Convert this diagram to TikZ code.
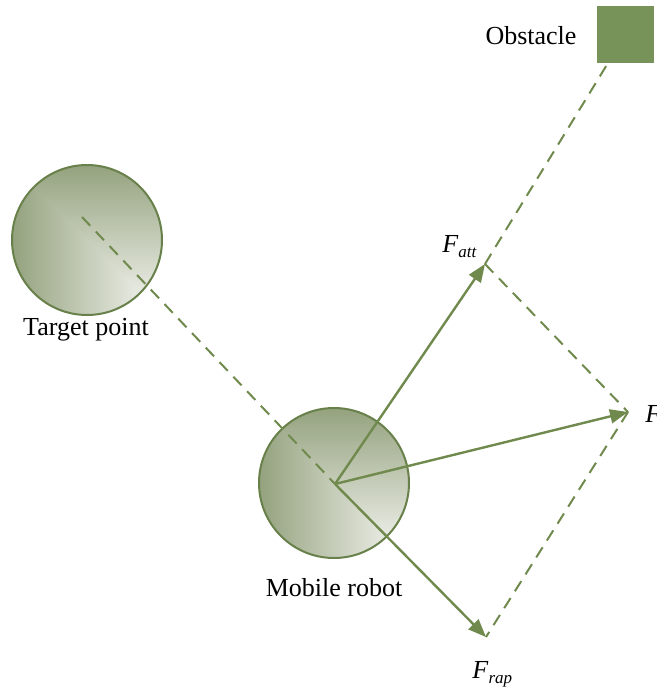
\documentclass[tikz,border=0pt]{standalone}
\usepackage{fontspec}
\setmainfont{Liberation Serif}
\usetikzlibrary{arrows.meta}

\definecolor{linegreen}{RGB}{112,138,78}
\definecolor{rimgreen}{RGB}{104,128,74}
\definecolor{shadedark}{RGB}{148,162,126}
\definecolor{shadelight}{RGB}{247,247,244}
\definecolor{boxgreen}{RGB}{120,147,90}

% italic F with a lowered italic subscript
\newcommand\fsub[1]{\textit{F}\raisebox{-0.45ex}{\fontsize{8.5}{9}\selectfont\textit{#1}}}

\tikzset{
  body/.style={circle, draw=rimgreen, line width=1pt, minimum size=75pt, inner sep=0pt,
    path picture={
      \shade[left color=shadedark, right color=shadelight]
        (path picture bounding box.south west) rectangle (path picture bounding box.north east);
      \begin{scope}
        \clip (path picture bounding box.north west) -- (path picture bounding box.north east)
              -- (path picture bounding box.south east) -- cycle;
        \shade[top color=shadedark, bottom color=shadelight]
          (path picture bounding box.south west) rectangle (path picture bounding box.north east);
      \end{scope}
    }},
  force/.style={draw=linegreen, line width=1.2pt, -{Triangle[length=9pt,width=7pt]}},
  guide/.style={draw=linegreen, line width=1pt, dash pattern=on 6pt off 4pt},
  lbl/.style={font=\fontsize{13}{15}\selectfont, inner sep=0pt},
}

\begin{document}
\begin{tikzpicture}[x=0.5pt,y=-0.5pt]
  \useasboundingbox (0,0) rectangle (657,687);

  % bodies
  \node[body] (target) at (87,240) {};
  \node[body] (robot) at (334,483) {};
  \node[fill=boxgreen, minimum size=28.5pt, inner sep=0pt] (obstacle) at (625,34) {};

  % key points
  \coordinate (O) at (335,484);
  \coordinate (aim) at (82,217);
  \coordinate (att) at (485,264);
  \coordinate (res) at (628,412);
  \coordinate (rep) at (486,637);
  \coordinate (obsfoot) at (608,63);

  % construction lines
  \draw[guide] (aim) -- (O);
  \draw[guide] (att) -- (obsfoot);
  \draw[guide] (att) -- (res);
  \draw[guide] (res) -- (rep);

  % force vectors
  \draw[force] (O) -- (att);
  \draw[force] (O) -- (res);
  \draw[force] (O) -- (rep);

  % labels
  \node[lbl, anchor=base] (obslbl) at (531,44) {Obstacle};
  \node[lbl, anchor=base] (tgtlbl) at (86,335) {Target point};
  \node[lbl, anchor=base] (robotlbl) at (334,596) {Mobile robot};
  \node[lbl, anchor=base west] (attlbl) at (442,252) {\fsub{att}};
  \node[lbl, anchor=base west] (reslbl) at (645,422) {\textit{F}};
  \node[lbl, anchor=base west] (replbl) at (472,678) {\fsub{rap}};
\end{tikzpicture}
\end{document}
